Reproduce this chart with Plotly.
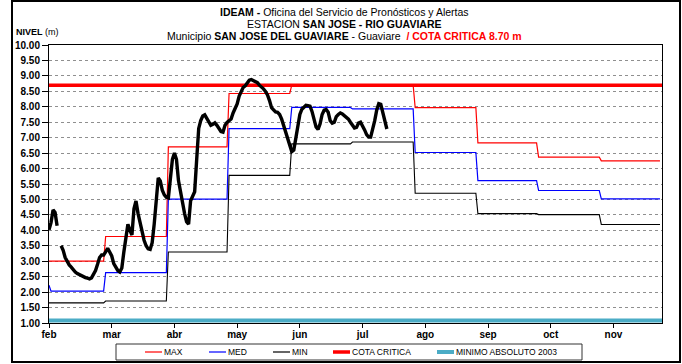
import numpy as np
import plotly.graph_objects as go

# ---------------------------------------------------------------- data
meses = ["feb", "mar", "abr", "may", "jun", "jul", "ago", "sep", "oct", "nov"]
dias_mes = [28, 31, 30, 31, 30, 31, 31, 30, 31, 30]

# monthly reference levels (m)
nivel_max = [3.00, 3.80, 6.70, 8.43, 8.70, 8.70, 7.97, 6.83, 6.37, 6.25]
nivel_med = [2.03, 2.63, 5.01, 7.29, 7.98, 7.93, 6.52, 5.61, 5.29, 5.02]
nivel_min = [1.65, 1.71, 3.30, 5.78, 6.80, 6.86, 5.20, 4.54, 4.51, 4.19]
med_primer_dia = 2.22

cota_critica = 8.70
minimo_absoluto_2003 = 1.08

# daily observed level, one value per day from 1 February (None = no reading)
nivel_observado = [
    4.02, 4.25, 4.66, 4.58, 4.15, None, 3.50, 3.35, 3.12, 2.98,
    2.88, 2.81, 2.72, 2.65, 2.60, 2.56, 2.53, 2.50, 2.47, 2.45,
    2.43, 2.46, 2.58, 2.70, 2.90, 3.12, 3.20, 3.20, 3.30, 3.42,
    3.30, 3.17, 2.92, 2.79, 2.70, 2.65, 2.78, 3.30, 3.85, 4.20,
    4.00, 3.85, 4.70, 4.95, 4.55, 4.25, 3.90, 3.68, 3.50, 3.40,
    3.38, 3.60, 4.20, 5.05, 5.70, 5.60, 5.30, 5.15, 5.07, 5.05,
    5.60, 6.30, 6.50, 6.30, 5.61, 5.20, 4.85, 4.55, 4.28, 4.20,
    4.96, 5.10, 5.25, 6.30, 7.30, 7.55, 7.70, 7.74, 7.63, 7.48,
    7.40, 7.43, 7.48, 7.40, 7.30, 7.20, 7.18, 7.40, 7.49, 7.54,
    7.60, 7.80, 7.98, 8.09, 8.35, 8.50, 8.63, 8.68, 8.78, 8.86,
    8.88, 8.85, 8.83, 8.78, 8.70, 8.65, 8.58, 8.50, 8.38, 8.20,
    7.97, 7.90, 7.83, 7.82, 7.75, 7.60, 7.38, 7.14, 6.92, 6.70,
    6.55, 6.60, 6.95, 7.40, 7.75, 7.92, 8.00, 8.05, 8.04, 8.02,
    7.85, 7.60, 7.35, 7.27, 7.45, 7.75, 7.89, 7.91, 7.82, 7.55,
    7.47, 7.50, 7.68, 7.75, 7.80, 7.77, 7.72, 7.66, 7.60, 7.50,
    7.40, 7.31, 7.33, 7.47, 7.50, 7.40, 7.25, 7.10, 7.02, 7.02,
    7.25, 7.55, 7.90, 8.10, 8.08, 7.80, 7.50, 7.28,
]

# ---------------------------------------------------------------- series
total_dias = sum(dias_mes)
dias = np.arange(total_dias)
serie_max = np.repeat(nivel_max, dias_mes)
serie_med = np.repeat(nivel_med, dias_mes).astype(float)
serie_med[0] = med_primer_dia
serie_min = np.repeat(nivel_min, dias_mes)
dias_obs = np.arange(len(nivel_observado))

FONT = "Arial, Liberation Sans, sans-serif"

fig = go.Figure()
fig.add_trace(go.Scatter(x=dias, y=serie_max, mode="lines", name="MAX",
                         line=dict(color="#ff0000", width=1.2)))
fig.add_trace(go.Scatter(x=dias, y=serie_med, mode="lines", name="MED",
                         line=dict(color="#0000ff", width=1.2)))
fig.add_trace(go.Scatter(x=dias, y=serie_min, mode="lines", name="MIN",
                         line=dict(color="#000000", width=1.1)))
fig.add_trace(go.Scatter(x=[0, total_dias], y=[cota_critica] * 2, mode="lines",
                         name="COTA CRITICA", line=dict(color="#ff0000", width=3.5)))
fig.add_trace(go.Scatter(x=[0, total_dias], y=[minimo_absoluto_2003] * 2, mode="lines",
                         name="MINIMO ABSOLUTO 2003",
                         line=dict(color="#4bacc6", width=4)))
fig.add_trace(go.Scatter(x=dias_obs, y=nivel_observado, mode="lines", name="NIVEL",
                         line=dict(color="#000000", width=3.4), connectgaps=False))

# ---------------------------------------------------------------- layout
W, H = 682, 364
ML, MR, MT, MB = 49, 20, 45, 41
PW, PH = W - ML - MR, H - MT - MB


def px_x(px):
    return (px - ML) / PW


def px_y(py):
    return (H - MB - py) / PH


fig.update_layout(
    width=W, height=H, autosize=False,
    margin=dict(l=ML, r=MR, t=MT, b=MB, pad=0),
    paper_bgcolor="white", plot_bgcolor="white",
    showlegend=False,
    font=dict(family=FONT, color="black"),
)
fig.update_xaxes(
    range=[0, total_dias], tickmode="array",
    tickvals=[31 * i for i in range(len(meses))], ticktext=meses,
    ticks="outside", ticklen=4, tickcolor="black", ticklabelstandoff=-2,
    tickfont=dict(family=FONT, size=10, weight="bold"),
    showgrid=False, zeroline=False,
    showline=True, linecolor="black", linewidth=1, mirror=True,
)
fig.update_yaxes(
    range=[1, 10], tick0=1, dtick=0.5, tickformat=".2f",
    ticks="outside", ticklen=6, tickcolor="black",
    tickfont=dict(family=FONT, size=10, weight="bold"),
    showgrid=True, gridcolor="#8f8f8f", gridwidth=1, griddash="dot",
    zeroline=False,
    showline=True, linecolor="black", linewidth=1, mirror=True,
)

shapes = []
annotations = []

# outer frame
shapes.append(dict(type="rect", xref="paper", yref="paper",
                   x0=px_x(12), x1=px_x(680), y0=px_y(362), y1=px_y(1),
                   line=dict(color="black", width=2), fillcolor="rgba(0,0,0,0)"))

# title block
cx = px_x(344)
titulos = [
    ("<b>IDEAM - </b>Oficina del Servicio de Pronósticos y Alertas", 12),
    ("ESTACION <b>SAN JOSE - RIO GUAVIARE</b>", 24),
    ("Municipio <b>SAN JOSE DEL GUAVIARE</b> - Guaviare  "
     "<span style='color:#ff0000'><b>/ COTA CRITICA 8.70 m</b></span>", 36),
]
for texto, py in titulos:
    annotations.append(dict(text=texto, xref="paper", yref="paper", x=cx, y=px_y(py),
                            xanchor="center", yanchor="middle", showarrow=False,
                            font=dict(family=FONT, size=10.5, color="black")))

annotations.append(dict(text="<b>NIVEL</b> (m)", xref="paper", yref="paper",
                        x=px_x(14), y=px_y(32), xanchor="left", yanchor="middle",
                        showarrow=False, font=dict(family=FONT, size=9, color="black")))

# legend box
shapes.append(dict(type="rect", xref="paper", yref="paper",
                   x0=px_x(116), x1=px_x(582), y0=px_y(360), y1=px_y(344),
                   line=dict(color="#333333", width=1), fillcolor="white"))
leyenda = [
    ("MAX", "#ff0000", 1.2, 145),
    ("MED", "#0000ff", 1.2, 209),
    ("MIN", "#000000", 1.2, 273),
    ("COTA CRITICA", "#ff0000", 3.5, 333),
    ("MINIMO ABSOLUTO 2003", "#4bacc6", 4, 437),
]
ly = px_y(352)
for nombre, color, ancho, x0 in leyenda:
    shapes.append(dict(type="line", xref="paper", yref="paper",
                       x0=px_x(x0), x1=px_x(x0 + 17), y0=ly, y1=ly,
                       line=dict(color=color, width=ancho)))
    annotations.append(dict(text=nombre, xref="paper", yref="paper",
                            x=px_x(x0 + 17), y=ly, xanchor="left", yanchor="middle",
                            showarrow=False,
                            font=dict(family=FONT, size=8.5, color="black")))

fig.update_layout(shapes=shapes, annotations=annotations)
fig.write_html("out.html")
